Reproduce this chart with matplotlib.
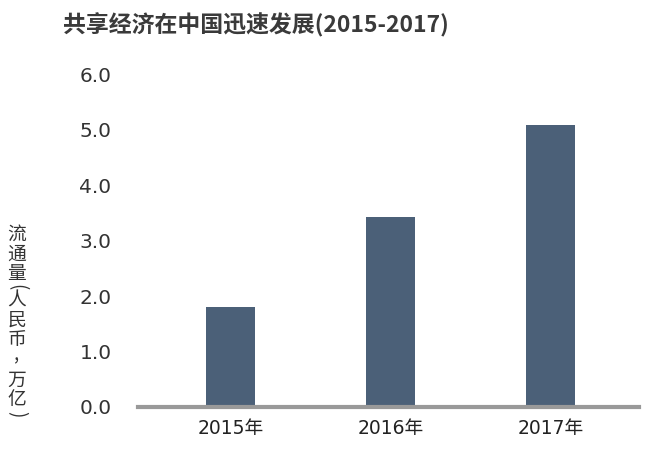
import matplotlib
matplotlib.use("Agg")
import matplotlib.pyplot as plt

categories = ["2015年", "2016年", "2017年"]
values = [1.80, 3.43, 5.09]
yticks = [0.0, 1.0, 2.0, 3.0, 4.0, 5.0, 6.0]
title = "共享经济在中国迅速发展(2015-2017)"
ylabel_chars = ["流", "通", "量", "(", "人", "民", "币,", "万", "亿", ")"]

fams = ["DejaVu Sans", "Noto Sans CJK SC"]
plt.rcParams["font.family"] = fams

W, H = 650, 451
fig = plt.figure(figsize=(W / 100, H / 100), dpi=100)
ax = fig.add_axes([0.2123, 0.0976, 0.983 - 0.2123, 0.8348 - 0.0976])

x = list(range(len(categories)))
ax.bar(x, values, width=0.31, color="#4b6078", zorder=2)

ax.set_xlim(-0.578, 2.553)
ax.set_ylim(0, 6.0)
ax.set_yticks(yticks)
ax.set_yticklabels([f"{v:.1f}" for v in yticks], fontsize=14.5, color="#333333")
ax.set_xticks(x)
ax.set_xticklabels(categories, fontsize=13.5, color="#222222")
ax.tick_params(axis="y", length=0, pad=19)
ax.tick_params(axis="x", length=0, pad=9)

for s in ["top", "right", "left"]:
    ax.spines[s].set_visible(False)
ax.spines["bottom"].set_color("#999999")
ax.spines["bottom"].set_linewidth(3)
ax.spines["bottom"].set_zorder(3)

fig.text(0.097, 1 - 25 / H, title, fontsize=16.5, fontweight="bold", color="#3a3a3a",
         family=["Noto Sans CJK SC", "DejaVu Sans"], ha="left", va="center")

# vertical stacked y-axis label (characters upright, brackets turned)
renderer = fig.canvas.get_renderer()
cjk = ["Noto Sans CJK SC", "DejaVu Sans"]
ypix = 234.0
for ch in ylabel_chars:
    small = ch in "()"
    if ch == "(":
        ypix -= 7
    elif ch == ")":
        ypix -= 6
    if len(ch) == 2:
        # character with its comma below, as one text block
        probe = fig.text(17 / W, 1 - ypix / H, ch[0], fontsize=13.5,
                         family=cjk, ha="center", va="center")
        top = probe.get_window_extent(renderer).y1
        probe.remove()
        fig.text(17 / W, top / H, ch[0] + "\n" + ch[1], fontsize=13.5, color="#333333",
                 family=cjk, ha="center", va="top", linespacing=0.62,
                 multialignment="center")
    else:
        fig.text(17 / W, 1 - ypix / H, ch, fontsize=13.5, color="#333333",
                 family=cjk, ha="center", va="center",
                 rotation=-90 if small else 0)
    ypix += 13 if small else (40 if len(ch) == 2 else 20)

fig.savefig("out.png", dpi=100, facecolor="white")
